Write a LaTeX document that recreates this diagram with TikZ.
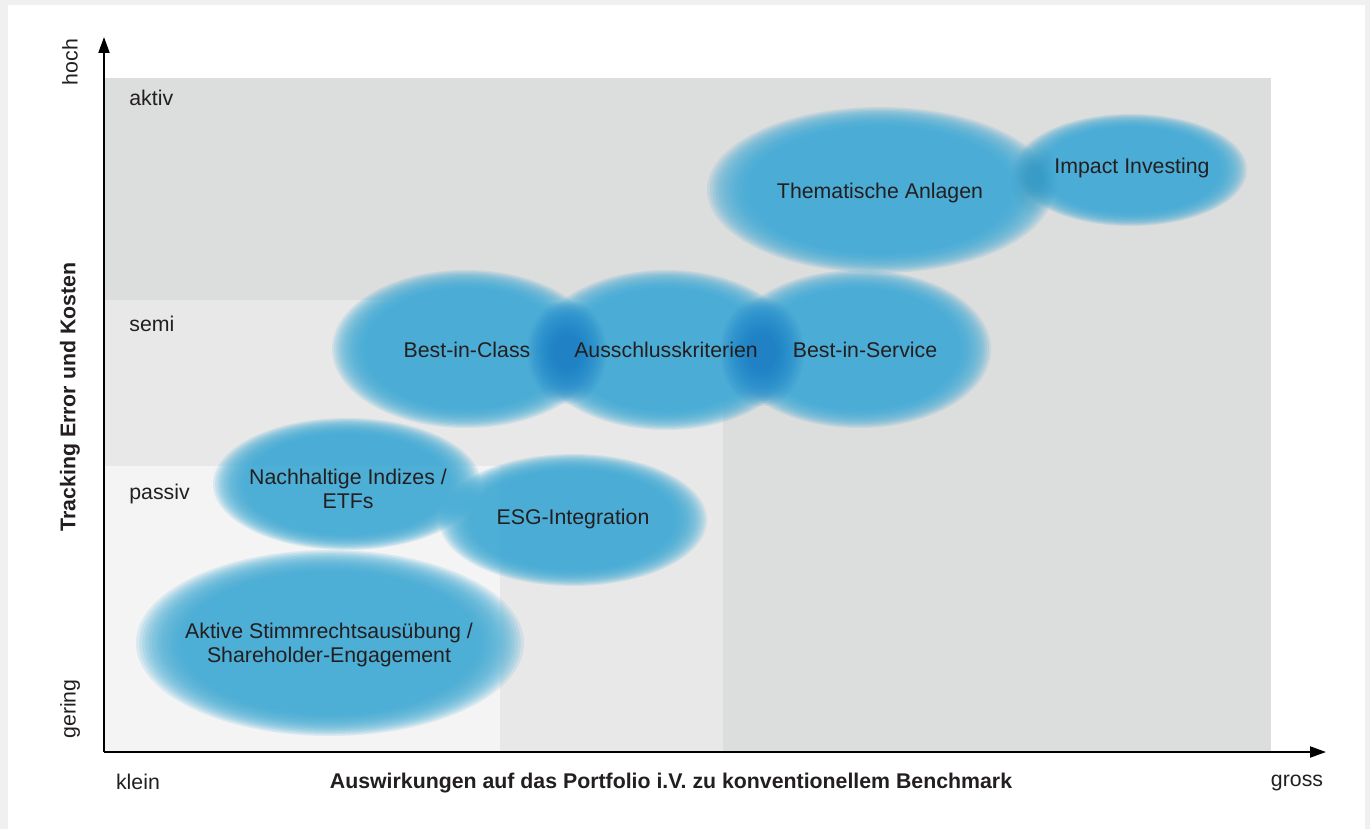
\documentclass[tikz,border=0pt]{standalone}
\usepackage{fontspec}
\setmainfont{Liberation Sans}
\usepackage{tikz}
\usetikzlibrary{arrows.meta}
\definecolor{rahmengrau}{HTML}{F0F0F0}
\definecolor{aktivgrau}{HTML}{DCDDDD}
\definecolor{semigrau}{HTML}{E8E8E8}
\definecolor{passivgrau}{HTML}{F4F4F4}
\definecolor{blasenblau}{RGB}{66,172,214}
\definecolor{tiefblau}{RGB}{22,118,196}
\definecolor{schrift}{HTML}{231F20}
\tikzstyle{achse->} = [line width = 1pt, -{Triangle[length = 8pt, width = 5.5pt]}]
\tikzstyle{beschriftung} = [text = schrift, font = \fontsize{10.65}{12.2}\selectfont, align = center, inner sep = 0pt]
% weiche Blase: Mittelpunkt x, y, Radien rx, ry, Farbe, Deckkraft je Ring, Schrumpfung je Ring
\newcommand{\blase}[7]{
	\foreach \k in {0, ..., 15} {
		\pgfmathsetmacro{\f}{1 - #7*\k}
		\fill[#5, fill opacity = #6] (#1, #2) ellipse [x radius = #3*\f, y radius = #4*\f];
	}
}

\begin{document}
\begin{tikzpicture}[x = 0.5pt, y = -0.5pt]
		% Rahmen
		\fill[rahmengrau] (0, 0) rectangle (1370, 829);
		\fill[white] (8, 5) rectangle (1365, 829);
		\useasboundingbox (0, 0) rectangle (1370, 829);
		% Bereiche
		\fill[aktivgrau] (104, 78) rectangle (1271, 752);
		\fill[semigrau] (104, 300) rectangle (723, 752);
		\fill[passivgrau] (104, 466) rectangle (500, 752);
		\node[beschriftung, anchor = west] (aktiv) at (129, 98) {aktiv};
		\node[beschriftung, anchor = west] (semi) at (129, 324) {semi};
		\node[beschriftung, anchor = west] (passiv) at (129, 494) {passiv};
		% Blasen
		\blase{880}{190}{173}{83}{blasenblau}{0.15}{0.016}
		\blase{1131}{170}{116}{56}{blasenblau}{0.15}{0.016}
		\blase{466}{349}{134}{79}{blasenblau}{0.15}{0.016}
		\blase{666}{350}{132}{80}{blasenblau}{0.15}{0.016}
		\blase{859}{349}{132}{79}{blasenblau}{0.15}{0.016}
		\blase{347}{484}{134}{66}{blasenblau}{0.15}{0.016}
		\blase{573}{520}{134}{66}{blasenblau}{0.15}{0.016}
		\blase{330}{643}{194}{93}{blasenblau}{0.15}{0.016}
		% Ueberschneidungen
		\blase{567}{352}{40}{52}{tiefblau}{0.07}{0.045}
		\blase{762}{352}{42}{54}{tiefblau}{0.07}{0.045}
		\blase{1034}{178}{24}{38}{tiefblau}{0.012}{0.045}
		% Beschriftungen der Blasen
		\node[beschriftung] (thema) at (880, 193) {Thematische Anlagen};
		\node[beschriftung] (impact) at (1132, 168) {Impact Investing};
		\node[beschriftung] (bic) at (467, 350) {Best-in-Class};
		\node[beschriftung] (ausschluss) at (666, 350) {Ausschlusskriterien};
		\node[beschriftung] (bis) at (865, 350) {Best-in-Service};
		\node[beschriftung] (indizes) at (348, 489) {Nachhaltige Indizes /\\ETFs};
		\node[beschriftung] (esg) at (573, 519) {ESG-Integration};
		\node[beschriftung] (stimmrecht) at (329, 645) {Aktive Stimmrechtsausübung /\\Shareholder-Engagement};
		% Achsen
		\coordinate (ursprung) at (104, 752);
		\coordinate (yspitze) at (104, 37);
		\coordinate (xspitze) at (1326, 752);
		\draw[achse->] (ursprung) -- (yspitze);
		\draw[achse->] (ursprung) -- (xspitze);
		% Achsenbeschriftungen
		\node[beschriftung, rotate = 90] (hoch) at (70, 62) {hoch};
		\node[beschriftung, rotate = 90] (gering) at (70, 709) {gering};
		\node[beschriftung, rotate = 90, font = \fontsize{10.65}{12.2}\selectfont\bfseries] (ytitel) at (70, 397) {Tracking Error und Kosten};
		\node[beschriftung] (klein) at (138, 782) {klein};
		\node[beschriftung] (gross) at (1297, 783) {gross};
		\node[beschriftung, font = \fontsize{10.65}{12.2}\selectfont\bfseries] (xtitel) at (671, 783) {Auswirkungen auf das Portfolio i.V. zu konventionellem Benchmark};
	\end{tikzpicture}
\end{document}
